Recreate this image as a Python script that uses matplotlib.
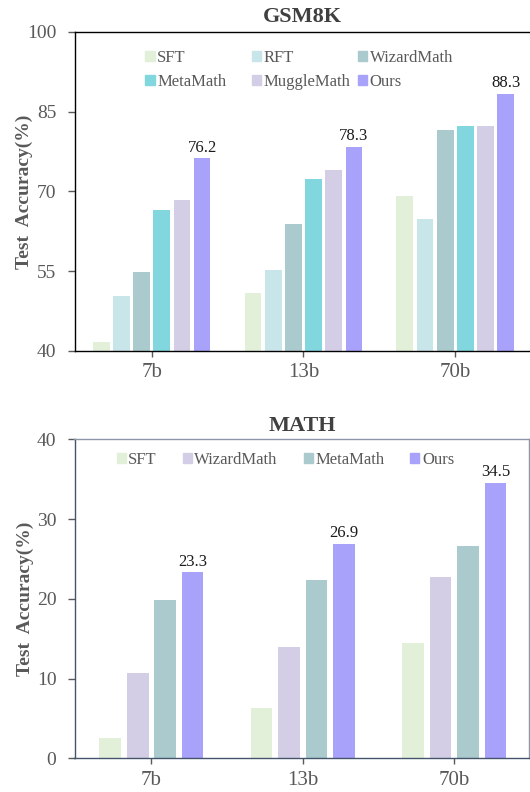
import numpy as np
import matplotlib
matplotlib.use('Agg')
import matplotlib.pyplot as plt
from matplotlib.patches import Patch

plt.rcParams['font.family'] = ['Liberation Serif', 'DejaVu Serif']

# 数据
sizes = ['7b', '13b', '70b']

gsm_names = ['SFT', 'RFT', 'WizardMath', 'MetaMath', 'MuggleMath', 'Ours']
gsm_sft = [41.6, 50.9, 69.2]
gsm_rft = [50.3, 55.3, 64.8]
gsm_wizard = [54.9, 63.9, 81.6]
gsm_metamath = [66.5, 72.3, 82.3]
gsm_muggle = [68.4, 74.0, 82.3]
gsm_ours = [76.2, 78.3, 88.3]

math_names = ['SFT', 'WizardMath', 'MetaMath', 'Ours']
math_sft = [2.5, 6.3, 14.4]
math_wizard = [10.7, 14.0, 22.7]
math_metamath = [19.8, 22.4, 26.6]
math_ours = [23.3, 26.9, 34.5]

gsm_yticks = [40, 55, 70, 85, 100]
math_yticks = [0, 10, 20, 30, 40]

c_sft = '#E2EFD9'
c_rft = '#C8E6EA'
c_wiz = '#ABCACD'
c_meta = '#82D7DF'
c_mug = '#D3CDE5'
c_ours = '#A8A2FB'

gray = '#595959'

fig = plt.figure(figsize=(5.3, 7.92), dpi=100)
W, H = 530.0, 792.0

ax1 = fig.add_axes([74.5 / W, 1 - 351 / H, 456 / W, 319.3 / H])
ax2 = fig.add_axes([74.5 / W, 1 - 758.3 / H, 454.8 / W, 319 / H])

x = np.arange(len(sizes))


def style_axis(ax, yticks, spine_main, spine_light, show_right):
    ax.set_xlim(-0.508, 2.495)
    ax.set_ylim(yticks[0], yticks[-1])
    ax.set_yticks(yticks)
    ax.set_xticks(x)
    ax.set_xticklabels(sizes)
    ax.tick_params(axis='y', labelsize=14, colors=gray, length=5, width=1, direction='out', pad=8)
    ax.tick_params(axis='x', labelsize=15, colors=gray, length=4, width=1, direction='out', pad=5)
    for t in ax.get_yticklines() + ax.get_xticklines():
        t.set_color(spine_main)
    ax.spines['left'].set_color(spine_main)
    ax.spines['bottom'].set_color(spine_main)
    ax.spines['top'].set_color(spine_light)
    ax.spines['right'].set_color(spine_light)
    ax.spines['right'].set_visible(show_right)
    for s in ax.spines.values():
        s.set_linewidth(1.0)
    ax.set_ylabel('Test  Accuracy(%)', fontsize=14, fontweight='bold', color=gray)
    ax.yaxis.set_label_coords(-0.09, 0.5)


# GSM8K
gsm_series = [gsm_sft, gsm_rft, gsm_wizard, gsm_metamath, gsm_muggle, gsm_ours]
gsm_colors = [c_sft, c_rft, c_wiz, c_meta, c_mug, c_ours]
pitch = 0.133
for i, (vals, col) in enumerate(zip(gsm_series, gsm_colors)):
    ax1.bar(x + (i - 2.5) * pitch, vals, width=0.11, color=col, zorder=2)
for xi, v in zip(x, gsm_ours):
    ax1.annotate(f'{v:.1f}', (xi + 2.5 * pitch, v), xytext=(0, 2), textcoords='offset points',
                 ha='center', va='bottom', fontsize=12, color='#1a1a1a')
style_axis(ax1, gsm_yticks, 'black', 'black', False)
ax1.set_title('GSM8K', fontsize=16, fontweight='bold', color='#404040', pad=7)

# 图例: 每列单独放
cols = [(0, 3), (1, 4), (2, 5)]
col_x = [145.4, 252, 358]
for k, (a, b) in enumerate(cols):
    handles = [Patch(color=gsm_colors[a]), Patch(color=gsm_colors[b])]
    leg = fig.legend(handles, [gsm_names[a], gsm_names[b]], loc='upper left',
                     bbox_to_anchor=(col_x[k] / W, 1 - 50 / H), frameon=False,
                     fontsize=12, handlelength=0.55, handleheight=0.55,
                     handletextpad=0.15, labelspacing=0.45, borderpad=0, borderaxespad=0)
    for t in leg.get_texts():
        t.set_color(gray)

# MATH
math_series = [math_sft, math_wizard, math_metamath, math_ours]
math_colors = [c_sft, c_mug, c_wiz, c_ours]
pitch2 = 0.1815
for i, (vals, col) in enumerate(zip(math_series, math_colors)):
    ax2.bar(x + (i - 1.5) * pitch2, vals, width=0.143, color=col, zorder=2)
for xi, v in zip(x, math_ours):
    ax2.annotate(f'{v:.1f}', (xi + 1.5 * pitch2, v), xytext=(0, 2), textcoords='offset points',
                 ha='center', va='bottom', fontsize=12, color='#1a1a1a')
style_axis(ax2, math_yticks, '#44546A', '#8C96A8', True)
ax2.set_title('MATH', fontsize=16, fontweight='bold', color='#404040', pad=6)

handles = [Patch(color=c) for c in math_colors]
leg2 = ax2.legend(handles, math_names, loc='upper left', ncol=4,
                  bbox_to_anchor=(116.6 / W, 1 - 452 / H), bbox_transform=fig.transFigure,
                  frameon=False, fontsize=12, handlelength=0.55, handleheight=0.55,
                  handletextpad=0.15, columnspacing=1.55, borderpad=0, borderaxespad=0)
for t in leg2.get_texts():
    t.set_color(gray)

plt.savefig('out.png', dpi=100)
